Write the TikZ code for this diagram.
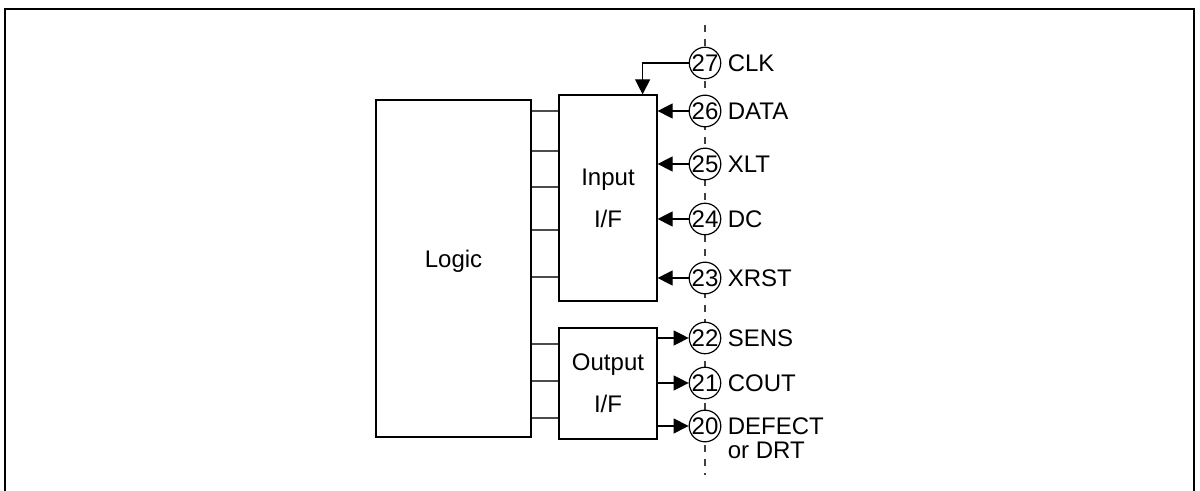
\documentclass[tikz,border=0pt]{standalone}
\usepackage{fontspec}
\setmainfont{Liberation Sans}
\usetikzlibrary{positioning,arrows.meta}

\begin{document}
\begin{tikzpicture}[x=0.5pt,y=0.5pt,
  blk/.style={draw=black,line width=0.6pt,align=center,inner sep=0pt,
    font=\fontsize{12}{21}\selectfont},
  pin/.style={circle,draw=black,fill=white,line width=0.6pt,inner sep=0pt,
    minimum size=15pt,font=\fontsize{12}{12}\selectfont},
  pinname/.style={anchor=west,inner sep=3pt,align=left,
    font=\fontsize{12}{12}\selectfont},
  bus/.style={draw=black!70,line width=0.6pt},
  sig/.style={draw=black,line width=0.6pt,-{Triangle[length=7.5pt,width=7.5pt]}},
  pinline/.style={draw=black!75,line width=0.6pt,dash pattern=on 3.5pt off 3.5pt}]
\path[use as bounding box] (0,0) rectangle (1200,491);

% outer frame
\draw[line width=1pt] (5,0) -- (5,482) -- (1194,482) -- (1194,0);

% blocks
\node[blk,minimum width=77.5pt,minimum height=168.5pt,text depth=10pt] (Logic) at (453.5,222.5) {Logic};
\node[blk,minimum width=49pt,minimum height=103pt] (Input) at (608,293) {Input\\I/F};
\node[blk,minimum width=49pt,minimum height=55.5pt] (Output) at (608,107.5) {Output\\I/F};

\foreach \ypos in {380,340,304,261,214}
  \draw[bus] (Logic.east |- 0,\ypos) -- (Input.west |- 0,\ypos);
\foreach \ypos in {147,110,73}
  \draw[bus] (Logic.east |- 0,\ypos) -- (Output.west |- 0,\ypos);

% pins
\draw[pinline] (705,466) -- (705,16);
\foreach \num/\ypos in {27/428,26/380,25/327,24/272,23/213,22/153,21/108,20/65}
  \node[pin] (p\num) at (705,\ypos) {\num};

\node[pinname] (n27) at (p27.east) {CLK};
\node[pinname] (n26) at (p26.east) {DATA};
\node[pinname] (n25) at (p25.east) {XLT};
\node[pinname] (n24) at (p24.east) {DC};
\node[pinname] (n23) at (p23.east) {XRST};
\node[pinname] (n22) at (p22.east) {SENS};
\node[pinname] (n21) at (p21.east) {COUT};
\node[pinname,yshift=-6pt] (n20) at (p20.east) {DEFECT\\or DRT};

% signals
\draw[sig] (p27.west) -| ([xshift=-7.5pt]Input.north east);
\foreach \num in {26,25,24,23}
  \draw[sig] (p\num.west) -- (Input.east |- p\num);
\foreach \num in {22,21,20}
  \draw[sig] (Output.east |- p\num) -- (p\num.west);
\end{tikzpicture}
\end{document}
